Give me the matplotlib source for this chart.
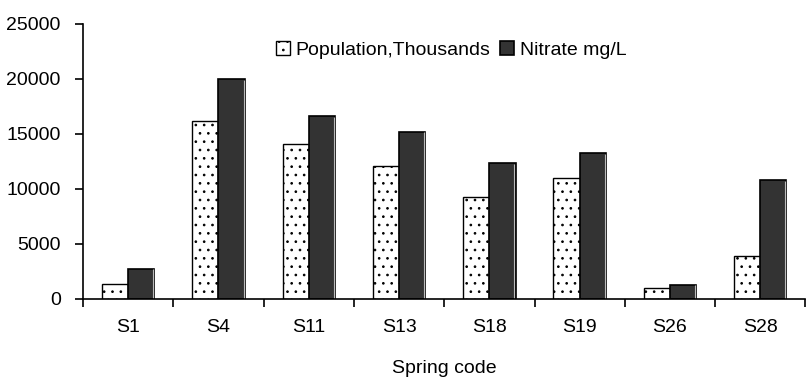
import matplotlib.pyplot as plt
import numpy as np

plt.rcParams["font.family"] = ["Liberation Sans", "DejaVu Sans"]
plt.rcParams["hatch.linewidth"] = 0.7

springs = ["S1", "S4", "S11", "S13", "S18", "S19", "S26", "S28"]
population = [1350, 16200, 14100, 12100, 9250, 10950, 950, 3850]
nitrate = [2700, 20000, 16600, 15200, 12300, 13250, 1250, 10800]

x = np.arange(len(springs))
w = 0.29

fig = plt.figure(figsize=(8.09, 3.79), dpi=100)
ax = fig.add_axes([0.1026, 0.2124, 0.893, 0.7243])

ax.bar(x - w / 2, population, width=w, color="white", edgecolor="black",
       linewidth=1.0, hatch="..", label="Population,Thousands")
ax.bar(x + w / 2, nitrate, width=w, color="#333333", edgecolor="black",
       linewidth=1.2, label="Nitrate mg/L")
# light strip along the right side of the dark bars
ax.vlines(x + w - 0.012, 0, np.array(nitrate) * 0.995, color="#bbbbbb",
          linewidth=0.8)

ax.set_xlim(-0.5, len(springs) - 0.5)
ax.set_ylim(0, 25000)
ax.set_yticks(range(0, 25001, 5000))
ax.set_xticks(x)
ax.set_xticklabels(springs)
ax.set_xticks(np.arange(-0.5, len(springs), 1.0), minor=True)
ax.tick_params(axis="x", which="major", length=0, pad=15, labelsize=14)
ax.tick_params(axis="x", which="minor", length=6, width=1.2, direction="out")
ax.tick_params(axis="y", length=6, width=1.2, labelsize=14, pad=10)

for s in ["top", "right"]:
    ax.spines[s].set_visible(False)
for s in ["left", "bottom"]:
    ax.spines[s].set_linewidth(1.2)

ax.set_xlabel("Spring code", fontsize=14, labelpad=17)

ax.legend(loc="upper center", bbox_to_anchor=(0.51, 1.0), ncol=2,
          frameon=False, fontsize=14, handlelength=0.7, handleheight=0.7,
          handletextpad=0.3, columnspacing=0.5)

fig.savefig("out.png", dpi=100, facecolor="white")
